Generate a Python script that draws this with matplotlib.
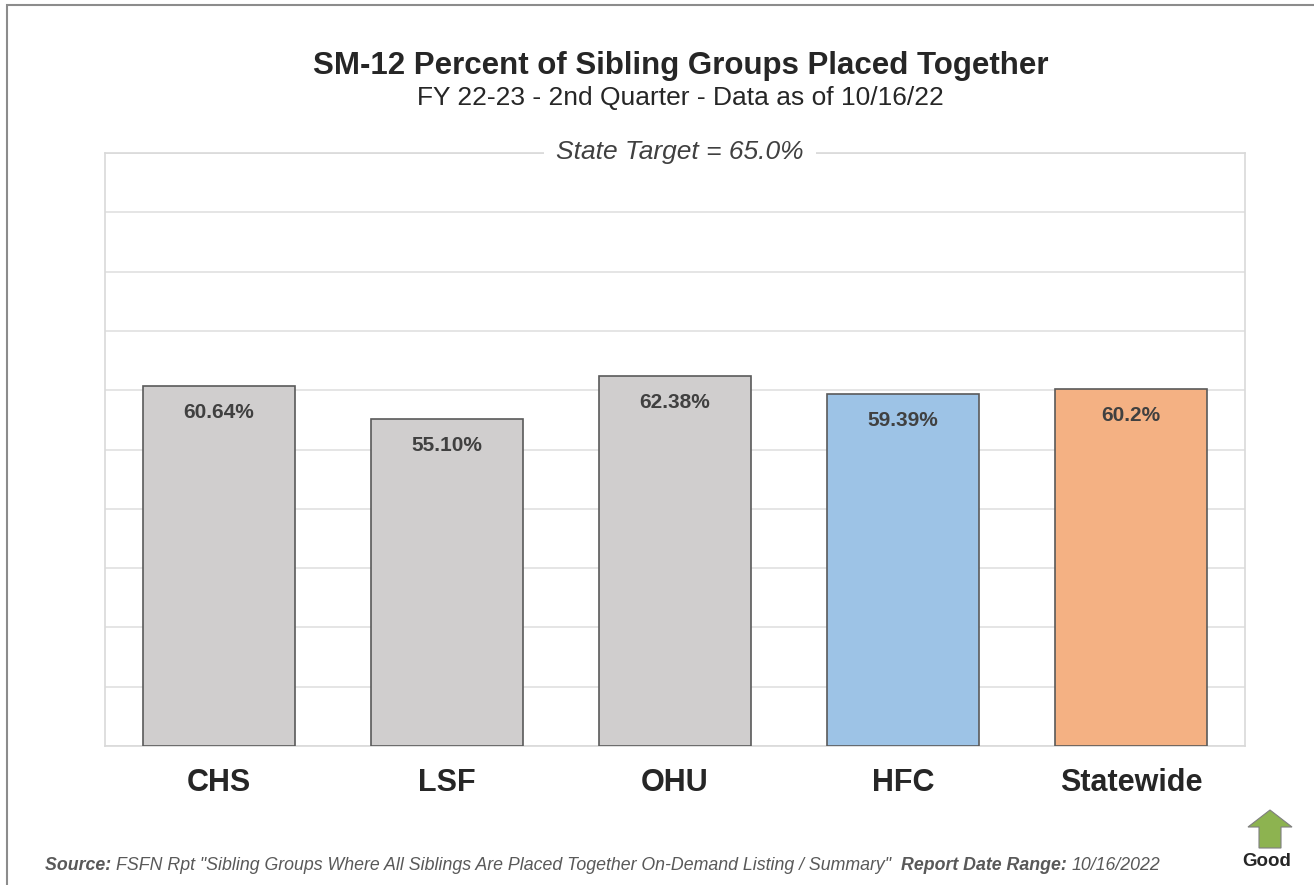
import matplotlib
matplotlib.use('Agg')
import matplotlib.pyplot as plt
from matplotlib.patches import FancyArrow, Rectangle

# chart data
categories = ['CHS', 'LSF', 'OHU', 'HFC', 'Statewide']
values = [60.64, 55.10, 62.38, 59.39, 60.2]
value_labels = ['60.64%', '55.10%', '62.38%', '59.39%', '60.2%']
bar_colors = ['#D0CECE', '#D0CECE', '#D0CECE', '#9DC3E6', '#F4B183']

plt.rcParams['font.family'] = ['Liberation Sans', 'DejaVu Sans']

fig = plt.figure(figsize=(13.14, 8.85), dpi=100)
W, H = 1314, 885
ax = fig.add_axes([105 / W, 1 - 746 / H, 1140 / W, 593 / H])

ax.bar(range(len(categories)), values, width=0.667, color=bar_colors,
       edgecolor='#5a5a5a', linewidth=1.2, zorder=3)
for i, (v, lab) in enumerate(zip(values, value_labels)):
    ax.annotate(lab, (i, v), xytext=(0, -19), textcoords='offset points',
                ha='center', va='center', fontsize=15, fontweight='bold',
                color='#404040', zorder=4)

ax.set_xlim(-0.5, len(categories) - 0.5)
ax.set_ylim(0, 100)
ax.set_yticks(range(0, 101, 10))
ax.set_yticklabels([])
ax.tick_params(axis='y', length=0)
ax.tick_params(axis='x', length=0, pad=16)
ax.set_xticks(range(len(categories)))
ax.set_xticklabels(categories, fontsize=22, fontweight='bold', color='#262626')
ax.grid(axis='y', color='#E0E0E0', linewidth=1.2, zorder=0)
for s in ax.spines.values():
    s.set_color('#D9D9D9')
    s.set_linewidth(1.2)

# state target label on the top line
ax.text(680 / W, 1 - 152 / H, 'State Target = 65.0%', transform=fig.transFigure,
        ha='center', va='center', fontsize=19, style='italic', color='#404040',
        bbox=dict(facecolor='white', edgecolor='none', pad=9), zorder=5)

# titles
fig.text(681 / W, 1 - 66 / H, 'SM-12 Percent of Sibling Groups Placed Together',
         ha='center', va='center', fontsize=22.5, fontweight='bold', color='#262626')
fig.text(680 / W, 1 - 98 / H, 'FY 22-23 - 2nd Quarter - Data as of 10/16/22',
         ha='center', va='center', fontsize=19, color='#262626')

# source footnote, pieces placed one after another
pieces = [('Source: ', 'bold'),
          ('FSFN Rpt "Sibling Groups Where All Siblings Are Placed Together On-Demand Listing / Summary"  ', 'normal'),
          ('Report Date Range: ', 'bold'),
          ('10/16/2022', 'normal')]
renderer = fig.canvas.get_renderer()
x = 45
for txt, wt in pieces:
    t = fig.text(x / W, 1 - 866 / H, txt, ha='left', va='center', fontsize=12.8,
                 style='italic', fontweight=wt, color='#595959')
    x += t.get_window_extent(renderer).width

# good arrow
arrow = FancyArrow(1270 / W, 1 - 848 / H, 0, 38 / H, width=22 / W,
                   head_width=44 / W, head_length=17 / H,
                   length_includes_head=True, transform=fig.transFigure,
                   facecolor='#8DB350', edgecolor='#7f7f7f', linewidth=0.8)
fig.patches.append(arrow)
fig.text(1267 / W, 1 - 862 / H, 'Good', ha='center', va='center', fontsize=13.5,
         fontweight='bold', color='#262626')

# outer frame
fig.patches.append(Rectangle((7 / W, -0.01), 1.02, 1 - 5 / H + 0.01,
                             transform=fig.transFigure, fill=False,
                             edgecolor='#8c8c8c', linewidth=1.5))

fig.savefig('out.png', dpi=100)
